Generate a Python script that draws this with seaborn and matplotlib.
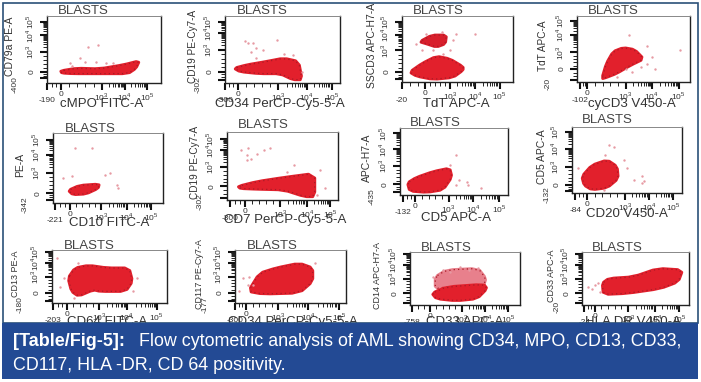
import matplotlib
matplotlib.use('Agg')
import numpy as np
import pandas as pd
import matplotlib.pyplot as plt
import seaborn as sns
from matplotlib.patches import Rectangle

# all values are percent of the channel range
p1_blob_x = [12, 26, 46, 67, 81, 78, 71, 46, 23, 13]
p1_blob_y = [18, 22, 21, 27, 33, 22, 14, 14, 14, 15]
p1_dots_x = [20, 29, 36, 45, 43, 33, 52, 22, 58]
p1_dots_y = [30, 37, 54, 57, 32, 32, 30, 25, 30]

p2_blob_x = [8, 19, 36, 51, 64, 67, 59, 48, 30, 13]
p2_blob_y = [22, 27, 32, 37, 32, 5, 5, 14, 14, 17]
p2_dots_x = [17, 24, 27, 23, 45, 51, 59, 27, 20, 33, 67]
p2_dots_y = [62, 59, 52, 47, 64, 44, 42, 37, 59, 49, 17]

p3_blob_x = [7, 18, 31, 43, 55, 55, 46, 28, 13]
p3_blob_y = [15, 28, 39, 35, 23, 18, 7, 4, 9]
p3_top_x = [16, 27, 40, 39, 31, 22]
p3_top_y = [61, 71, 71, 58, 53, 58]
p3_dots_x = [22, 49, 46, 18, 28, 37, 43, 66, 13, 36]
p3_dots_y = [73, 73, 63, 48, 48, 43, 48, 73, 58, 76]

p4_blob_x = [22, 26, 32, 41, 51, 59, 47, 35, 26]
p4_blob_y = [5, 28, 46, 52, 49, 35, 25, 13, 7]
p4_dots_x = [46, 62, 66, 69, 62, 49, 91, 35, 43, 57]
p4_dots_y = [71, 54, 38, 20, 28, 15, 49, 8, 20, 23]

p5_blob_x = [14, 24, 42, 41, 30, 18]
p5_blob_y = [18, 25, 27, 21, 13, 12]
p5_dots_x = [47, 52, 58, 9, 59, 35, 17, 20]
p5_dots_y = [40, 43, 26, 36, 21, 79, 38, 79]

p6_blob_x = [10, 27, 51, 79, 79, 70, 51, 27, 12]
p6_blob_y = [20, 27, 33, 39, 5, 5, 15, 16, 17]
p6_dots_x = [18, 22, 27, 19, 33, 39, 60, 84, 88, 81, 54, 13, 18]
p6_dots_y = [66, 61, 68, 76, 73, 76, 51, 44, 17, 7, 41, 73, 59]

p7_blob_x = [7, 15, 31, 46, 48, 40, 25, 9]
p7_blob_y = [18, 26, 35, 40, 27, 8, 4, 6]
p7_dots_x = [52, 55, 62, 75, 52, 63, 46]
p7_dots_y = [60, 23, 20, 10, 15, 15, 45]

p8_blob_x = [9, 18, 32, 41, 42, 32, 18, 11]
p8_blob_y = [25, 42, 50, 40, 22, 8, 5, 12]
p8_dots_x = [34, 38, 30, 47, 50, 64, 65, 64, 5, 56, 29]
p8_dots_y = [72, 70, 58, 50, 38, 25, 18, 15, 38, 20, 5]

p9_blob_x = [14, 20, 32, 48, 67, 70, 64, 42, 36, 23, 17]
p9_blob_y = [47, 66, 71, 66, 66, 41, 22, 22, 25, 13, 22]
p9_dots_x = [10, 7, 19, 70, 74, 23, 4]
p9_dots_y = [48, 31, 9, 22, 47, 75, 84]

p10_blob_x = [12, 22, 37, 58, 70, 70, 58, 25]
p10_blob_y = [22, 56, 66, 75, 66, 41, 19, 17]
p10_dots_x = [7, 13, 4, 12, 16, 72]
p10_dots_y = [47, 50, 22, 34, 34, 75]

p11_blob_x = [20, 33, 67, 70, 61, 42, 24]
p11_blob_y = [22, 34, 39, 31, 12, 8, 12]
p11_top_x = [23, 33, 62, 69, 67, 33, 23]
p11_top_y = [53, 66, 69, 50, 37, 34, 31]
p11_dots_x = [30, 45, 62, 21, 36, 54]
p11_dots_y = [66, 72, 69, 53, 62, 66]

p12_blob_x = [19, 25, 48, 71, 94, 90, 73, 42, 20]
p12_blob_y = [41, 50, 53, 69, 66, 44, 31, 22, 20]
p12_dots_x = [6, 12, 17, 9, 15]
p12_dots_y = [34, 37, 25, 31, 41]

x_names = ['cMPO FITC-A', 'CD34 PerCP-Cy5-5-A', 'TdT APC-A', 'cyCD3 V450-A',
           'CD10 FITC-A', 'CD7 PerCP-Cy5-5-A', 'CD5 APC-A', 'CD20 V450-A',
           'CD64 FITC-A', 'CD34 PerCP-Cy5-5-A', 'CD33 APC-A', 'HLA DR V450-A']
y_names = ['CD79a PE-A', 'CD19 PE-Cy7-A', 'SSCD3 APC-H7-A', 'TdT APC-A',
           'PE-A', 'CD19 PE-Cy7-A', 'APC-H7-A', 'CD5 APC-A',
           'CD13 PE-A', 'CD117 PE-Cy7-A', 'CD14 APC-H7-A', 'CD33 APC-A']
x_mins = ['-190', '-300', '-20', '-102', '-221', '-300', '-132', '-84', '-203', '-300', '-758', '-24']
y_mins = ['-400', '-302', '', '-20', '-342', '-302', '-435', '-132', '-180', '-177', '', '-20']

# min, 0, 10^3, 10^4, 10^5 tick places
x_ticks = [[0, 12, 48, 68, 88], [0, 11, 46, 71, 93], [0, 21, 43, 66, 88], [3, 9, 43, 66, 90],
           [2, 15, 44, 67, 89], [3, 16, 48, 72, 93], [3, 14, 45, 68, 92], [3, 14, 48, 70, 92],
           [1, 13, 41, 65, 91], [0, 10, 39, 66, 94], [2, 18, 47, 68, 89], [2, 12, 43, 68, 91]]
y_ticks = [[7, 17, 47, 71, 91], [5, 17, 49, 74, 91], [4, 15, 48, 71, 91], [3, 20, 45, 71, 93],
           [5, 14, 43, 69, 90], [3, 20, 49, 73, 90], [5, 16, 43, 68, 92], [3, 12, 40, 67, 92],
           [3, 19, 50, 75, 97], [3, 19, 50, 75, 97], [3, 22, 50, 75, 97], [3, 22, 50, 75, 97]]

# box left, right, top, bottom in pixels
boxes = [(47, 161, 16, 83), (225, 340, 16, 83), (402, 513, 16, 82), (577, 690, 16, 82),
         (53, 163, 133, 203), (227, 338, 132, 200), (400, 508, 128, 195), (572, 682, 127, 193),
         (52, 167, 250, 303), (235, 346, 250, 303), (410, 520, 252, 305), (582, 689, 252, 305)]
title_dx = [-21, -20, -19, -20, -18, -19, -19, -20, -20, -18, -19, -18]
title_gap = [5, 5, 5, 5, 4, 7, 5, 7, 4, 4, 4, 4]
xlab_pos = [.48, .48, .49, .49, .51, .52, .52, .50, .48, .52, .50, .48]
xlab_off = [21, 21, 22, 22, 20, 20, 23, 21, 19, 19, 17, 17]
ylab_off = [37, 32, 30, 34, 33, 32, 33, 30, 37, 35, 32, 30]
ylab_size = [7.5, 7.2, 7.5, 7.2, 7.5, 7.2, 7.5, 7.5, 6.5, 6.5, 6.5, 6.5]

blobs = [(p1_blob_x, p1_blob_y), (p2_blob_x, p2_blob_y), (p3_blob_x, p3_blob_y), (p4_blob_x, p4_blob_y),
         (p5_blob_x, p5_blob_y), (p6_blob_x, p6_blob_y), (p7_blob_x, p7_blob_y), (p8_blob_x, p8_blob_y),
         (p9_blob_x, p9_blob_y), (p10_blob_x, p10_blob_y), (p11_blob_x, p11_blob_y), (p12_blob_x, p12_blob_y)]
dots = [(p1_dots_x, p1_dots_y), (p2_dots_x, p2_dots_y), (p3_dots_x, p3_dots_y), (p4_dots_x, p4_dots_y),
        (p5_dots_x, p5_dots_y), (p6_dots_x, p6_dots_y), (p7_dots_x, p7_dots_y), (p8_dots_x, p8_dots_y),
        (p9_dots_x, p9_dots_y), (p10_dots_x, p10_dots_y), (p11_dots_x, p11_dots_y), (p12_dots_x, p12_dots_y)]

RED = '#e2202c'
PINK = '#e79aa3'
W, H = 701, 382

sns.set_style('white')
plt.rcParams['font.family'] = ['Liberation Sans', 'DejaVu Sans']
plt.rcParams['mathtext.fontset'] = 'custom'
plt.rcParams['mathtext.rm'] = 'Liberation Sans'
plt.rcParams['xtick.bottom'] = True
plt.rcParams['ytick.left'] = True


def minor_ticks(ticks):
    # log spacing inside each decade, for the comb of small marks
    out = []
    for a, b in zip(ticks[2:], ticks[3:]):
        out += list(a + (b - a) * np.log10(np.arange(2, 10)))
    out += list(np.linspace(ticks[1], ticks[2], 6)[1:-1])
    out += list(np.linspace(ticks[0], ticks[1], 4)[1:-1])
    return out


def rounded(xs, ys):
    # one pass of corner cutting so the outlines read less like polygons
    pts = np.column_stack([xs, ys])
    nxt = np.roll(pts, -1, axis=0)
    out = np.empty((len(pts) * 2, 2))
    out[0::2] = 0.8 * pts + 0.2 * nxt
    out[1::2] = 0.2 * pts + 0.8 * nxt
    return out[:, 0], out[:, 1]


def cloud(ax, xs, ys, color, zorder=2):
    rx, ry = rounded(xs, ys)
    ax.fill(rx, ry, facecolor=color, edgecolor=color, lw=2.2, joinstyle='round', zorder=zorder)
    ax.fill(rx, ry, facecolor='none', edgecolor='#a81a26', lw=0.9, ls=(0, (1, 2.5)), zorder=zorder + 0.1)


fig = plt.figure(figsize=(W / 100, H / 100), dpi=100)

for i, (left, right, top, bottom) in enumerate(boxes):
    ax = fig.add_axes([left / W, 1 - bottom / H, (right - left) / W, (bottom - top) / H])
    ax.set_xlim(0, 100)
    ax.set_ylim(0, 100)

    if i == 10:
        cloud(ax, p11_top_x, p11_top_y, '#e8808c', zorder=1)
    cloud(ax, blobs[i][0], blobs[i][1], RED)
    if i == 2:
        cloud(ax, p3_top_x, p3_top_y, '#d81f2c')
    sns.scatterplot(x=dots[i][0], y=dots[i][1], ax=ax, color=PINK, s=3, linewidth=0, legend=False, zorder=3)

    xt, yt = x_ticks[i], y_ticks[i]
    ax.set_xticks(xt)
    ax.set_xticklabels(['', '0', '$10^3$', '$10^4$', '$10^5$'], fontsize=6, color='#333333')
    ax.set_yticks(yt)
    ax.set_yticklabels(['', '0', '$10^3$', '$10^4$', '$10^5$'], fontsize=6, color='#333333',
                       rotation=90, va='center')
    ax.set_xticks(minor_ticks(xt), minor=True)
    ax.set_yticks(minor_ticks(yt), minor=True)
    ax.tick_params(axis='x', which='major', length=5, width=1.5, color='#111111', pad=1, direction='out')
    ax.tick_params(axis='y', which='major', length=5, width=1.5, color='#111111', pad=3, direction='out')
    ax.tick_params(axis='both', which='minor', length=3, width=0.7, color='#222222', direction='out')

    w_px, h_px = right - left, bottom - top
    ax.set_xlabel(x_names[i], fontsize=9.5, color='#333333', va='center')
    ax.xaxis.set_label_coords(xlab_pos[i], -xlab_off[i] / h_px)
    ax.set_ylabel(y_names[i], fontsize=ylab_size[i], color='#333333', va='center')
    ax.yaxis.set_label_coords(-ylab_off[i] / w_px, 0.55)

    # the lowest tick labels sit apart from the others
    ax.text(xt[0] / 100, -18 / h_px, x_mins[i], transform=ax.transAxes, ha='center', va='center',
            fontsize=6, color='#333333')
    ax.text(-(ylab_off[i] - 5) / w_px, -2 / h_px, y_mins[i], transform=ax.transAxes, ha='center', va='center',
            fontsize=6, color='#333333', rotation=90)

    ax.text(0.5 + title_dx[i] / w_px, 1 + title_gap[i] / h_px, 'BLASTS', transform=ax.transAxes,
            ha='center', va='center', fontsize=9.5, color='#444444')

    for name in ['left', 'bottom', 'right']:
        ax.spines[name].set_color('#222222')
        ax.spines[name].set_linewidth(1.0)
    ax.spines['top'].set_color('#888888')
    ax.spines['top'].set_linewidth(0.7)

# outer frame and caption band
fig.add_artist(Rectangle((2.5 / W, 1 - 323 / H), 695 / W, 320 / H, transform=fig.transFigure,
                         fill=False, edgecolor='#2b5078', lw=1.2))
fig.add_artist(Rectangle((2 / W, 1 - 379 / H), 696 / W, 56 / H, transform=fig.transFigure,
                         facecolor='#234a94', edgecolor='none', zorder=5))
fig.text(13 / W, 1 - 342 / H, '[Table/Fig-5]:', fontsize=13, fontweight='bold', color='white',
         va='center', zorder=6)
fig.text(139 / W, 1 - 342 / H, 'Flow cytometric analysis of AML showing CD34, MPO, CD13, CD33,',
         fontsize=12.9, color='white', va='center', zorder=6)
fig.text(13 / W, 1 - 365 / H, 'CD117, HLA -DR, CD 64 positivity.', fontsize=12.9, color='white',
         va='center', zorder=6)

fig.savefig('out.png', dpi=100)
